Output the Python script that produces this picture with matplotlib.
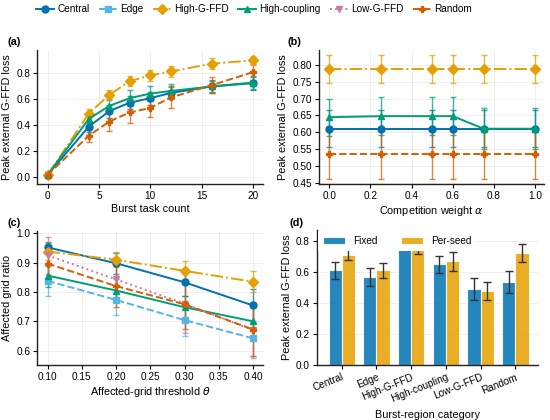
import matplotlib
matplotlib.use("Agg")
import matplotlib.pyplot as plt
import numpy as np
from matplotlib.lines import Line2D

plt.rcParams['font.family'] = ['Liberation Sans', 'DejaVu Sans']
plt.rcParams['mathtext.fontset'] = 'dejavusans'
plt.rcParams['font.size'] = 7

# ---------------- data ----------------
series_names = ["Central", "Edge", "High-G-FFD", "High-coupling", "Low-G-FFD", "Random"]
colors = {"Central": "#0072B2", "Edge": "#56B4E9", "High-G-FFD": "#E69F00",
          "High-coupling": "#009E73", "Low-G-FFD": "#CC79A7", "Random": "#D55E00"}
markers = {"Central": "o", "Edge": "s", "High-G-FFD": "D", "High-coupling": "^",
           "Low-G-FFD": "v", "Random": "P"}
styles = {"Central": "-", "Edge": "--", "High-G-FFD": "-.", "High-coupling": "-",
          "Low-G-FFD": ":", "Random": "--"}

# (a) burst task count
a_x = [0, 4, 6, 8, 10, 12, 16, 20]
a_y = {
    "Central":       [0.02, 0.39, 0.51, 0.575, 0.61, 0.65, 0.70, 0.725],
    "High-G-FFD":    [0.02, 0.49, 0.635, 0.74, 0.785, 0.815, 0.875, 0.90],
    "High-coupling": [0.02, 0.45, 0.55, 0.61, 0.645, 0.665, 0.70, 0.73],
    "Random":        [0.02, 0.32, 0.43, 0.50, 0.535, 0.615, 0.71, 0.81],
}
a_err = {
    "Central":       [0.02, 0.04, 0.05, 0.05, 0.05, 0.05, 0.05, 0.05],
    "High-G-FFD":    [0.02, 0.035, 0.035, 0.04, 0.04, 0.04, 0.04, 0.035],
    "High-coupling": [0.02, 0.03, 0.045, 0.06, 0.06, 0.05, 0.04, 0.05],
    "Random":        [0.02, 0.05, 0.07, 0.08, 0.07, 0.08, 0.06, 0.06],
}

# (b) competition weight alpha
b_x = [0.0, 0.25, 0.5, 0.6, 0.75, 1.0]
b_y = {
    "Central":       [0.611, 0.611, 0.611, 0.611, 0.611, 0.611],
    "High-G-FFD":    [0.786, 0.786, 0.786, 0.786, 0.786, 0.786],
    "High-coupling": [0.645, 0.648, 0.648, 0.648, 0.611, 0.611],
    "Random":        [0.535, 0.535, 0.535, 0.535, 0.535, 0.535],
}
b_err = {
    "Central":       [0.054] * 6,
    "High-G-FFD":    [0.041] * 6,
    "High-coupling": [0.055, 0.057, 0.057, 0.057, 0.061, 0.061],
    "Random":        [0.073] * 6,
}

# (c) affected-grid threshold theta
c_x = [0.10, 0.20, 0.30, 0.40]
c_y = {
    "Central":       [0.952, 0.898, 0.833, 0.754],
    "Edge":          [0.838, 0.773, 0.704, 0.642],
    "High-G-FFD":    [0.938, 0.910, 0.872, 0.835],
    "High-coupling": [0.856, 0.805, 0.748, 0.700],
    "Low-G-FFD":     [0.925, 0.843, 0.760, 0.670],
    "Random":        [0.897, 0.820, 0.758, 0.672],
}
c_err = {
    "Central":       [0.02, 0.035, 0.045, 0.055],
    "Edge":          [0.05, 0.05, 0.055, 0.06],
    "High-G-FFD":    [0.03, 0.025, 0.035, 0.035],
    "High-coupling": [0.04, 0.04, 0.04, 0.05],
    "Low-G-FFD":     [0.063, 0.07, 0.1, 0.095],
    "Random":        [0.05, 0.07, 0.085, 0.09],
}

# (d) burst-region category
d_cats = ["Central", "Edge", "High-G-FFD", "High-coupling", "Low-G-FFD", "Random"]
d_fixed = [0.611, 0.565, 0.786, 0.648, 0.490, 0.535]
d_fixed_err = [0.054, 0.058, 0.041, 0.057, 0.068, 0.073]
d_perseed = [0.710, 0.610, 0.780, 0.668, 0.478, 0.720]
d_perseed_err = [0.035, 0.05, 0.065, 0.06, 0.06, 0.058]

# ---------------- figure ----------------
fig = plt.figure(figsize=(5.5, 4.2), dpi=100)
W, H = 550.0, 420.0

def ax_at(l, r, t, b):
    return fig.add_axes([l / W, 1 - b / H, (r - l) / W, (b - t) / H])

axA = ax_at(37.3, 263.3, 50, 184)
axB = ax_at(319, 544.3, 50, 184)
axC = ax_at(37.3, 263.3, 230.7, 365)
axD = ax_at(316.7, 538.3, 230, 365)

def style_ax(ax):
    for s in ["top", "right"]:
        ax.spines[s].set_visible(False)
    for s in ["left", "bottom"]:
        ax.spines[s].set_linewidth(1.0)
        ax.spines[s].set_color("#222222")
    ax.grid(True, color="#ececec", linewidth=0.6)
    ax.set_axisbelow(True)
    ax.tick_params(labelsize=7.2, length=3, width=0.8, pad=2)

def draw_lines(ax, xs, ys, errs):
    for name in series_names:
        if name not in ys:
            continue
        cont = ax.errorbar(xs, ys[name], yerr=errs[name], color=colors[name],
                           linestyle=styles[name], marker=markers[name], markersize=5,
                           linewidth=1.4, elinewidth=1.0, capsize=2.5, capthick=1.0,
                           ecolor=colors[name], zorder=3)
        for c in cont[1]:
            c.set_alpha(0.75)
        for c in cont[2]:
            c.set_alpha(0.75)

for ax in (axA, axB, axC, axD):
    style_ax(ax)

LBL = 7.8

# (a)
draw_lines(axA, a_x, a_y, a_err)
axA.set_xlim(-1, 21)
axA.set_ylim(-0.05, 0.98)
axA.set_xticks([0, 5, 10, 15, 20])
axA.set_yticks([0.0, 0.2, 0.4, 0.6, 0.8])
axA.set_yticklabels(["0.0", "0.2", "0.4", "0.6", "0.8"])
axA.set_xlabel("Burst task count", fontsize=LBL, labelpad=2)
axA.set_ylabel("Peak external G-FFD loss", fontsize=LBL, labelpad=3)

# (b)
draw_lines(axB, b_x, b_y, b_err)
axB.set_xlim(-0.05, 1.045)
axB.set_ylim(0.448, 0.843)
axB.set_xticks([0.0, 0.2, 0.4, 0.6, 0.8, 1.0])
axB.set_yticks([0.45, 0.50, 0.55, 0.60, 0.65, 0.70, 0.75, 0.80])
axB.set_yticklabels(["0.45", "0.50", "0.55", "0.60", "0.65", "0.70", "0.75", "0.80"])
axB.set_xlabel(r"Competition weight $\alpha$", fontsize=LBL, labelpad=2)
axB.set_ylabel("Peak external G-FFD loss", fontsize=LBL, labelpad=3)

# (c)
draw_lines(axC, c_x, c_y, c_err)
axC.set_xlim(0.085, 0.415)
axC.set_ylim(0.551, 1.009)
axC.set_xticks([0.10, 0.15, 0.20, 0.25, 0.30, 0.35, 0.40])
axC.set_xticklabels(["0.10", "0.15", "0.20", "0.25", "0.30", "0.35", "0.40"])
axC.set_yticks([0.6, 0.7, 0.8, 0.9, 1.0])
axC.set_xlabel(r"Affected-grid threshold $\theta$", fontsize=LBL, labelpad=2)
axC.set_ylabel("Affected grid ratio", fontsize=LBL, labelpad=3)

# (d)
xd = np.arange(len(d_cats))
bw = 0.38
fixed_col = "#0072B2"
per_col = "#E69F00"
axD.bar(xd - bw / 2, d_fixed, bw, color=fixed_col, alpha=0.85, edgecolor="white",
        linewidth=0.8, label="Fixed", zorder=2)
axD.bar(xd + bw / 2, d_perseed, bw, color=per_col, alpha=0.85, edgecolor="white",
        linewidth=0.8, label="Per-seed", zorder=2)
axD.errorbar(xd - bw / 2, d_fixed, yerr=d_fixed_err, fmt="none", ecolor="#333333",
             elinewidth=1.0, capsize=3, capthick=1.0, zorder=3)
axD.errorbar(xd + bw / 2, d_perseed, yerr=d_perseed_err, fmt="none", ecolor="#333333",
             elinewidth=1.0, capsize=3, capthick=1.0, zorder=3)
axD.set_xlim(-0.72, 5.66)
axD.set_ylim(0, 0.87)
axD.set_yticks([0.0, 0.2, 0.4, 0.6, 0.8])
axD.set_yticklabels(["0.0", "0.2", "0.4", "0.6", "0.8"])
axD.set_xticks(xd)
axD.set_xticklabels(d_cats, rotation=22, ha="right", rotation_mode="anchor")
axD.grid(False, axis="x")
axD.set_xlabel("Burst-region category", fontsize=LBL, labelpad=4)
axD.set_ylabel("Peak external G-FFD loss", fontsize=LBL, labelpad=3)
legD = axD.legend(loc="upper left", ncol=2, fontsize=7.2, frameon=True,
                  handlelength=2.2, handleheight=0.7, columnspacing=2.4,
                  borderaxespad=0.1, borderpad=0.5, bbox_to_anchor=(0.0, 1.0),
                  framealpha=1.0)
legD.get_frame().set_facecolor("white")
legD.get_frame().set_edgecolor("none")
legD.set_zorder(5)

# panel labels
fig.text(7 / W, 1 - 42 / H, "(a)", fontsize=7.8, fontweight="bold", va="center")
fig.text(288 / W, 1 - 42 / H, "(b)", fontsize=7.8, fontweight="bold", va="center")
fig.text(7 / W, 1 - 223 / H, "(c)", fontsize=7.8, fontweight="bold", va="center")
fig.text(290 / W, 1 - 223 / H, "(d)", fontsize=7.8, fontweight="bold", va="center")

# top legend
handles = []
for name in series_names:
    handles.append(Line2D([0], [0], color=colors[name], linestyle=styles[name],
                          marker=markers[name], markersize=5, linewidth=1.4))
fig.legend(handles, series_names, loc="center", bbox_to_anchor=(254 / W, 1 - 9 / H),
           ncol=6, frameon=False, fontsize=7.2, handlelength=1.8, columnspacing=0.9,
           handletextpad=0.35)

fig.savefig("out.png", dpi=100)
